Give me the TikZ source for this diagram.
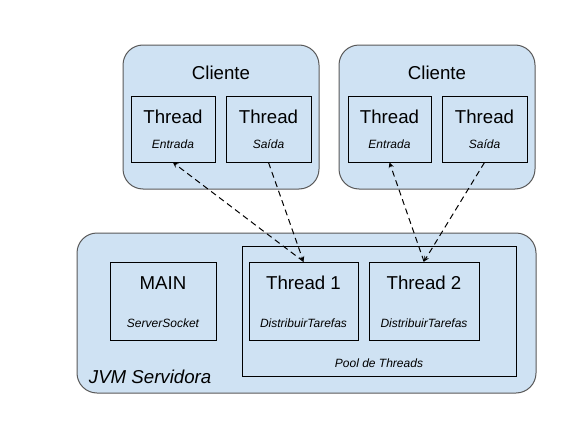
\documentclass[tikz,border=0pt]{standalone}
\usepackage{fontspec}
\setmainfont{Liberation Sans}
\usetikzlibrary{arrows}

\definecolor{paleblue}{HTML}{CFE2F3}
\definecolor{rimgray}{HTML}{595959}

\begin{document}
\begin{tikzpicture}[x=0.75pt, y=-0.75pt, >=stealth, line width=0.75pt,
    host/.style={draw=rimgray, fill=paleblue, rounded corners=15pt, inner sep=0pt},
    task/.style={draw=black, inner sep=0pt},
    dims/.style 2 args={minimum width=#1*0.75pt, minimum height=#2*0.75pt},
    big/.style={font=\fontsize{14}{16}\selectfont},
    small/.style={font=\fontsize{9}{11}\selectfont\itshape},
    link/.style={dash pattern=on 4.5pt off 3pt}]
    \useasboundingbox (0, 0) rectangle (561, 421);
    % clientes
    \node[host, dims={196}{144}] (cli1) at (221, 117) {};
    \node[host, dims={196}{144}] (cli2) at (437, 117) {};
    \node[big] (cli1name) at (221, 73) {Cliente};
    \node[big] (cli2name) at (437, 73) {Cliente};
    \node[task, dims={84}{66}] (c1in) at (173, 129) {};
    \node[task, dims={85}{66}] (c1out) at (268.5, 129) {};
    \node[task, dims={83}{66}] (c2in) at (389.5, 129) {};
    \node[task, dims={85}{66}] (c2out) at (484.5, 129) {};
    \node[big] (c1inname) at (173, 117) {Thread};
    \node[small] (c1intag) at (173, 144) {Entrada};
    \node[big] (c1outname) at (268.5, 117) {Thread};
    \node[small] (c1outtag) at (268.5, 144) {Saída};
    \node[big] (c2inname) at (389.5, 117) {Thread};
    \node[small] (c2intag) at (389.5, 144) {Entrada};
    \node[big] (c2outname) at (484.5, 117) {Thread};
    \node[small] (c2outtag) at (484.5, 144) {Saída};
    % servidor
    \node[host, dims={459}{160}] (srv) at (306.5, 313) {};
    \node[font=\fontsize{14}{16}\selectfont\itshape, anchor=west] (srvname) at (84, 377) {JVM Servidora};
    \node[task, dims={106}{78}] (main) at (163, 301) {};
    \node[big] (mainname) at (163, 283) {MAIN};
    \node[small] (maintag) at (163, 323) {ServerSocket};
    \node[task, dims={274}{130}] (pool) at (379, 311) {};
    \node[small] (poolname) at (379, 363) {Pool de Threads};
    \node[task, dims={109}{78}] (t1) at (303.5, 301) {};
    \node[task, dims={110}{78}] (t2) at (424, 301) {};
    \node[big] (t1name) at (303.5, 283) {Thread 1};
    \node[small] (t1tag) at (303.5, 323) {DistribuirTarefas};
    \node[big] (t2name) at (424, 283) {Thread 2};
    \node[small] (t2tag) at (424, 323) {DistribuirTarefas};
    % conexoes
    \draw[link, ->] (t1.north) -- (c1in.south);
    \draw[link, ->] (c1out.south) -- (t1.north);
    \draw[link, ->] (t2.north) -- (c2in.south);
    \draw[link, ->] (c2out.south) -- (t2.north);
\end{tikzpicture}
\end{document}
